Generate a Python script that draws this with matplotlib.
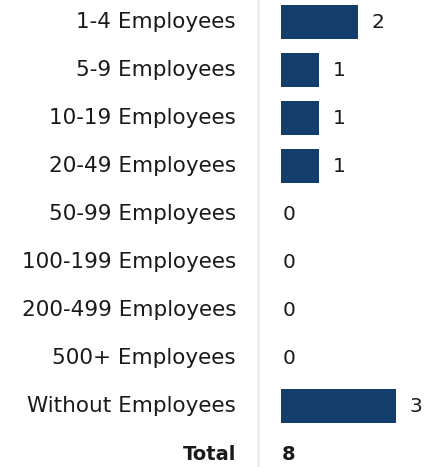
import matplotlib
matplotlib.use("Agg")
import matplotlib.pyplot as plt
from matplotlib.transforms import offset_copy

# data
categories = ["1-4 Employees", "5-9 Employees", "10-19 Employees", "20-49 Employees",
              "50-99 Employees", "100-199 Employees", "200-499 Employees",
              "500+ Employees", "Without Employees"]
counts = [2, 1, 1, 1, 0, 0, 0, 0, 3]
total_label = "Total"
total_value = sum(counts)

BAR_COLOR = "#133d6b"
TEXT_COLOR = "#1a1a1a"
FONT = "DejaVu Sans"
FS = 15.5

W, H = 425, 467
fig = plt.figure(figsize=(W / 100, H / 100), dpi=100)
ax = fig.add_axes([281 / W, 0, 1 - 281 / W, 1])

px_per_unit = 38.3
ax.set_xlim(0, (W - 281) / px_per_unit)
row = 48.0
ax.set_ylim((H - 22) / row, -22 / row)
ax.axis("off")

ypos = list(range(len(categories)))
ax.barh(ypos, counts, height=34 / row, color=BAR_COLOR)

# value labels
for y, v in zip(ypos, counts):
    off = 14 if v > 0 else 2
    tr = offset_copy(ax.transData, fig=fig, x=off, y=0, units="dots")
    ax.text(v, y, str(v), transform=tr, ha="left", va="center",
            fontsize=FS - 1, color=TEXT_COLOR, family=FONT)

# category labels
lab_tr = offset_copy(ax.transData, fig=fig, x=-45, y=0, units="dots")
for y, c in zip(ypos, categories):
    ax.text(0, y, c, transform=lab_tr, ha="right", va="center",
            fontsize=FS, color=TEXT_COLOR, family=FONT)

ty = len(categories)
ax.text(0, ty, total_label, transform=lab_tr, ha="right", va="center",
        fontsize=14, fontweight="bold", color=TEXT_COLOR, family=FONT)
tr0 = offset_copy(ax.transData, fig=fig, x=1, y=0, units="dots")
ax.text(0, ty, str(total_value), transform=tr0, ha="left", va="center",
        fontsize=14, fontweight="bold", color=TEXT_COLOR, family=FONT)

# separator line
fig.add_artist(plt.Line2D([258 / W, 258 / W], [0, 1], color="#e6eef5", lw=2))

fig.savefig("out.png", dpi=100, facecolor="white")
